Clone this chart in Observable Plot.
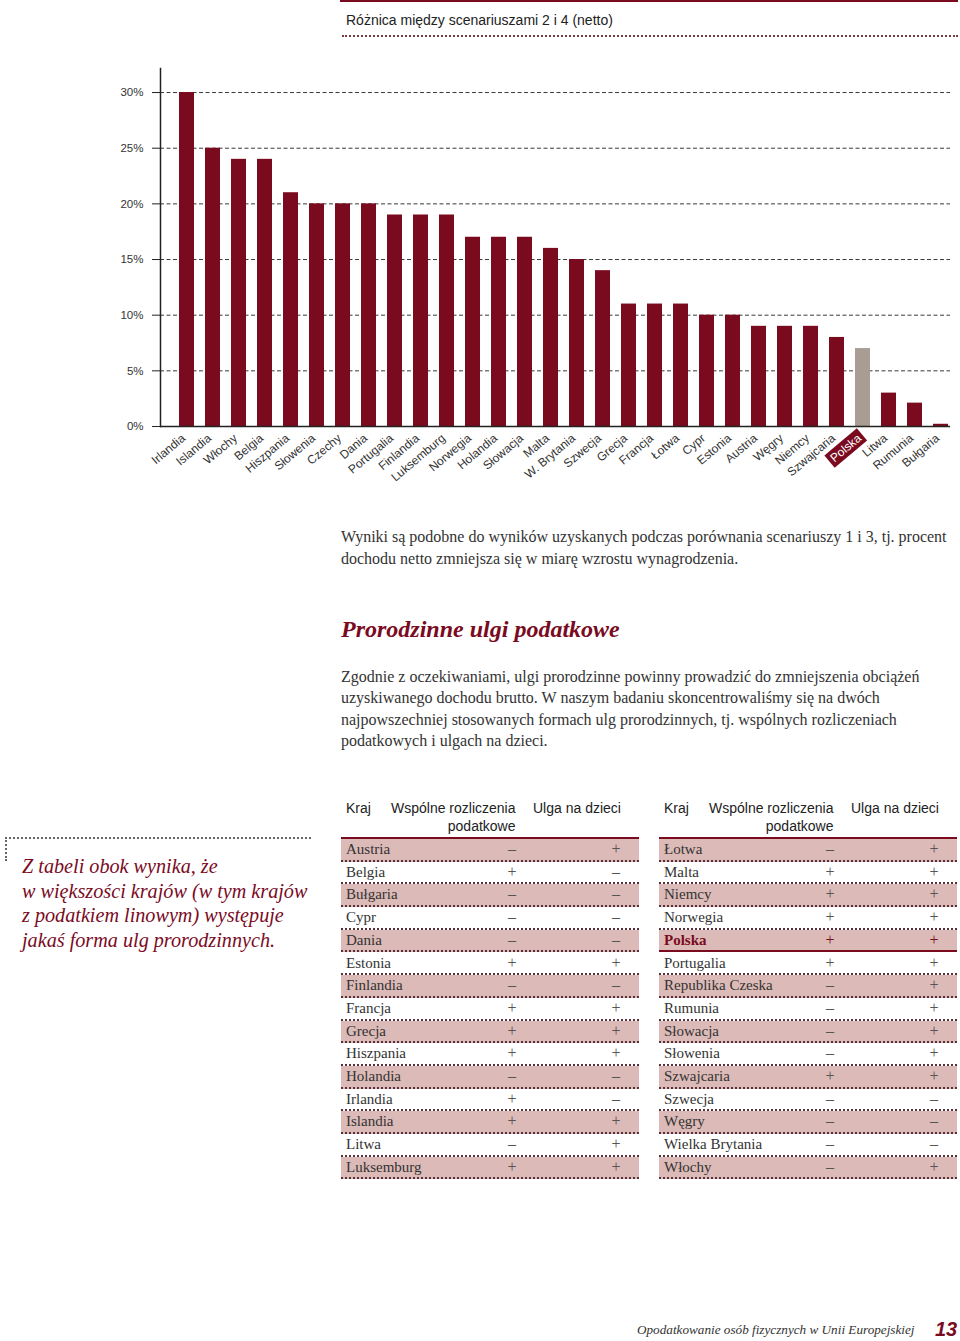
<!DOCTYPE html>
<html>
<head>
<meta charset="utf-8">
<script src="https://cdn.jsdelivr.net/npm/d3@7"></script>
<script src="https://cdn.jsdelivr.net/npm/@observablehq/plot@0.6"></script>
<style>
  html, body { margin: 0; padding: 0; background: #fff; }
  body { width: 960px; height: 1341px; position: relative; overflow: hidden;
         font-family: "Liberation Sans", Arial, sans-serif; color: #222; }
  .abs { position: absolute; }
  .serif { font-family: "Liberation Serif", "Times New Roman", serif; }
  #topline { left: 340px; top: 0; width: 618px; height: 2px; background: #7a0b1f; }
  #title { left: 346px; top: 11px; font-size: 14px; line-height: 18px; color: #222; }
  #titledots { left: 342px; top: 35px; width: 616px; border-top: 2px dotted #7a3b45; }
  #chart { left: 0; top: 50px; }
  #p1 { left: 341px; top: 526px; font-size: 16px; line-height: 21.5px; color: #333; white-space: nowrap; }
  #h2 { left: 341px; top: 615px; font-size: 24px; line-height: 28px; color: #7a0b1f; font-weight: bold; font-style: italic; white-space: nowrap; }
  #p2 { left: 341px; top: 666px; font-size: 16px; line-height: 21.3px; color: #333; white-space: nowrap; }
  #notedots { left: 5px; top: 837px; width: 304px; height: 22px; border-top: 2px dotted #666; border-left: 2px dotted #666; }
  #note { left: 22px; top: 854px; font-size: 20.2px; line-height: 24.7px; color: #7a0b1f; font-style: italic; white-space: nowrap; }
  .hdr { font-size: 14px; line-height: 18px; color: #222; white-space: nowrap; }
  .row { height: 22.7px; box-sizing: border-box; border-bottom: 2px dotted #5a3038; }
  .cell { font-size: 15px; line-height: 22px; color: #333; white-space: nowrap; }
  .sign { font-size: 16px; line-height: 22px; color: #555; width: 20px; text-align: center; }
  #footer { left: 637px; top: 1321px; font-size: 13.2px; line-height: 18px; color: #333; font-style: italic; white-space: nowrap; }
  #pagenum { left: 935px; top: 1317px; font-size: 20px; line-height: 24px; color: #7a0b1f; font-style: italic; font-weight: bold; }
</style>
</head>
<body>
<div id="topline" class="abs"></div>
<div id="title" class="abs">Różnica między scenariuszami 2 i 4 (netto)</div>
<div id="titledots" class="abs"></div>
<div id="chart" class="abs"></div>

<div id="p1" class="abs serif">Wyniki są podobne do wyników uzyskanych podczas porównania scenariuszy 1 i 3, tj. procent<br>dochodu netto zmniejsza się w miarę wzrostu wynagrodzenia.</div>
<div id="h2" class="abs serif">Prorodzinne ulgi podatkowe</div>
<div id="p2" class="abs serif">Zgodnie z oczekiwaniami, ulgi prorodzinne powinny prowadzić do zmniejszenia obciążeń<br>uzyskiwanego dochodu brutto. W naszym badaniu skoncentrowaliśmy się na dwóch<br>najpowszechniej stosowanych formach ulg prorodzinnych, tj. wspólnych rozliczeniach<br>podatkowych i ulgach na dzieci.</div>

<div id="notedots" class="abs"></div>
<div id="note" class="abs serif">Z tabeli obok wynika, że<br>w większości krajów (w tym krajów<br>z podatkiem linowym) występuje<br>jakaś forma ulg prorodzinnych.</div>

<div id="tables"></div>

<div id="footer" class="abs serif">Opodatkowanie osób fizycznych w Unii Europejskiej</div>
<div id="pagenum" class="abs">13</div>

<script>
// ---- Chart data ----
const countries = ["Irlandia","Islandia","Włochy","Belgia","Hiszpania","Słowenia","Czechy","Dania","Portugalia","Finlandia","Luksemburg","Norwegia","Holandia","Słowacja","Malta","W. Brytania","Szwecja","Grecja","Francja","Łotwa","Cypr","Estonia","Austria","Węgry","Niemcy","Szwajcaria","Polska","Litwa","Rumunia","Bułgaria"];
const values = [30,25,24,24,21,20,20,20,19,19,19,17,17,17,16,15,14,11,11,11,10,10,9,9,9,8,7,3,2.1,0.2];
const highlight = "Polska";
const yTicks = [0,5,10,15,20,25,30];

// ---- Table data ----
const tableHeaders = ["Kraj", "Wspólne rozliczenia podatkowe", "Ulga na dzieci"];
const leftCountries = ["Austria","Belgia","Bułgaria","Cypr","Dania","Estonia","Finlandia","Francja","Grecja","Hiszpania","Holandia","Irlandia","Islandia","Litwa","Luksemburg"];
const leftJoint =     ["–","+","–","–","–","+","–","+","+","+","–","+","+","–","+"];
const leftChild =     ["+","–","–","–","–","+","–","+","+","+","–","–","+","+","+"];
const rightCountries = ["Łotwa","Malta","Niemcy","Norwegia","Polska","Portugalia","Republika Czeska","Rumunia","Słowacja","Słowenia","Szwajcaria","Szwecja","Węgry","Wielka Brytania","Włochy"];
const rightJoint =     ["–","+","+","+","+","+","–","–","–","–","+","–","–","–","–"];
const rightChild =     ["+","+","+","+","+","+","+","+","+","+","+","–","–","–","+"];

const barColor = "#7a0b1f";
const hiColor = "#a89c93";

const data = countries.map((c, i) => ({country: c, value: values[i]}));

const chart = Plot.plot({
  width: 960,
  height: 440,
  marginTop: 18,
  marginBottom: 64,
  marginLeft: 160,
  marginRight: 10,
  x: {domain: countries, range: [172, 955], paddingInner: 0.44, paddingOuter: 0.22, axis: null},
  y: {domain: [0, 32.16], axis: null},
  style: {fontFamily: "'Liberation Sans', Arial, sans-serif", fontSize: "11px", color: "#333", background: "transparent", overflow: "visible"},
  marks: [
    Plot.gridY(yTicks, {stroke: "#222", strokeOpacity: 1, strokeDasharray: "4,2.5", strokeWidth: 0.9}),
    Plot.axisY(yTicks, {tickSize: 8, tickPadding: 9, tickFormat: d => d + "%", label: null, stroke: "#222", fill: "#333", fontSize: 11.5}),
    Plot.barY(data, {filter: d => d.country !== highlight, x: "country", y: "value", fill: barColor}),
    Plot.barY(data, {filter: d => d.country === highlight, x: "country", y: "value", fill: hiColor}),
    Plot.ruleY([0], {stroke: "#222", strokeWidth: 1.5}),
    Plot.frame({anchor: "left", stroke: "#222", strokeWidth: 1.5}),
    Plot.text(data, {filter: d => d.country !== highlight, x: "country", frameAnchor: "bottom", text: "country", rotate: -40, textAnchor: "end", dy: 13, dx: -1, fill: "#333", fontSize: 12}),
    Plot.text(data, {filter: d => d.country === highlight, x: "country", frameAnchor: "bottom", text: "country", rotate: -40, textAnchor: "end", dy: 13, dx: -1, fill: "#fff", fontSize: 12})
  ]
});
document.getElementById("chart").appendChild(chart);

// background box behind highlighted label
d3.select(chart).selectAll("text").filter(function() { return this.textContent === highlight; }).each(function() {
  const bb = this.getBBox();
  const parent = this.parentNode;
  const rect = document.createElementNS("http://www.w3.org/2000/svg", "rect");
  rect.setAttribute("x", bb.x - 3);
  rect.setAttribute("y", bb.y - 1);
  rect.setAttribute("width", bb.width + 6);
  rect.setAttribute("height", bb.height + 2);
  rect.setAttribute("fill", barColor);
  if (this.getAttribute("transform")) rect.setAttribute("transform", this.getAttribute("transform"));
  parent.insertBefore(rect, this);
});

// ---- Tables ----
function buildTable(left, names, joint, child) {
  const root = document.getElementById("tables");
  const mk = (cls, css, html) => {
    const d = document.createElement("div");
    d.className = "abs " + cls;
    Object.assign(d.style, css);
    if (html != null) d.innerHTML = html;
    root.appendChild(d);
    return d;
  };
  mk("hdr", {left: (left + 5) + "px", top: "799px"}, tableHeaders[0]);
  const parts = tableHeaders[1].split(" ");
  mk("hdr", {left: (left + 50) + "px", top: "799px", textAlign: "right"}, parts.slice(0, 2).join(" ") + "<br>" + parts.slice(2).join(" "));
  mk("hdr", {left: (left + 192) + "px", top: "799px"}, tableHeaders[2]);
  mk("", {left: left + "px", top: "837px", width: "298px", height: "2px", background: barColor}, null);
  names.forEach((n, i) => {
    const top = 839 + 22.7 * i;
    const isHi = n === highlight;
    const row = mk("row", {left: left + "px", top: top + "px", width: "298px", background: i % 2 === 0 ? "#dcbab7" : "transparent"}, null);
    if (isHi) { row.style.borderBottom = "2px solid " + barColor; }
    const c = mk("cell serif", {left: (left + 5) + "px", top: (top - 1) + "px"}, n);
    if (isHi) { c.style.color = barColor; c.style.fontWeight = "bold"; }
    const s1 = mk("sign serif", {left: (left + 161) + "px", top: (top - 1) + "px"}, joint[i]);
    const s2 = mk("sign serif", {left: (left + 265) + "px", top: (top - 1) + "px"}, child[i]);
    if (isHi) { s1.style.color = barColor; s2.style.color = barColor; }
  });
}
buildTable(341, leftCountries, leftJoint, leftChild);
buildTable(659, rightCountries, rightJoint, rightChild);
</script>
</body>
</html>
